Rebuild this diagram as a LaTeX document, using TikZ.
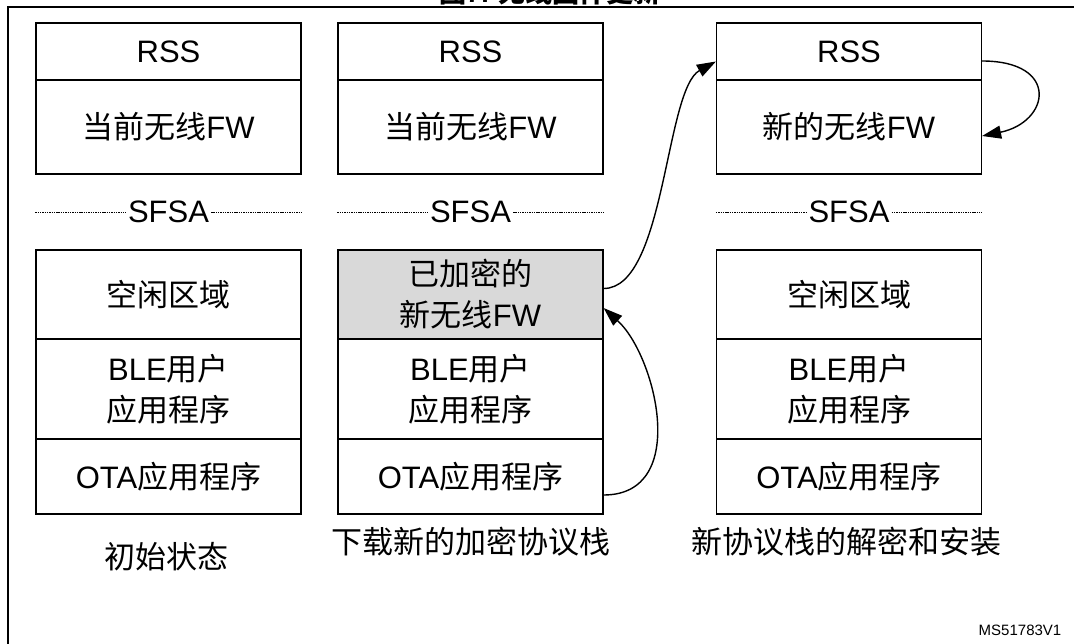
\documentclass[tikz,border=0pt]{standalone}
\usepackage{fontspec}
\setmainfont{Liberation Sans}
\newfontfamily\cjk{Noto Sans CJK SC}
\usetikzlibrary{arrows.meta}
\begin{document}
\begin{tikzpicture}[x=1pt,y=-1pt,
  cell/.style={draw,line width=1.2pt,minimum width=265pt,inner sep=0pt,align=center,
    font=\fontsize{31}{41}\selectfont},
  rssrow/.style={cell,minimum height=57pt},
  fwrow/.style={cell,minimum height=94pt},
  rowa/.style={cell,minimum height=89pt},
  rowb/.style={cell,minimum height=100pt},
  rowc/.style={cell,minimum height=75pt},
  sfsa/.style={inner xsep=2pt,inner ysep=0pt,font=\fontsize{31}{40}\selectfont},
  sepline/.style={line width=1pt,dash pattern=on 1.4pt off 0.9pt},
  caption/.style={font=\fontsize{31}{40}\selectfont\cjk},
  arr/.style={line width=1.4pt,-{Triangle[length=19pt,width=13pt]}},
  frame/.style={line width=1.8pt}
]
\useasboundingbox (0,0) rectangle (1074,643);
\fill[white] (0,0) rectangle (1074,643);

% title (cut off at the top)
\node[anchor=base,inner sep=0pt,font=\fontsize{27}{30}\selectfont\bfseries] (title) at (550,2) {{\cjk 图}7. {\cjk 无线固件更新}};

% frame
\coordinate (fbl) at (8,650);
\coordinate (ftl) at (8,7);
\coordinate (ftr) at (1080,7);
\draw[frame] (fbl) -- (ftl) -- (ftr);

% column 1
\node[rssrow] (rss1) at (168.5,51.5) {RSS};
\node[fwrow]  (fw1)  at (168.5,127) {{\cjk 当前无线}FW};
\node[sfsa]   (sf1)  at (168.5,212) {SFSA};
\node[rowa]   (a1)   at (168.5,294.5) {\cjk 空闲区域};
\node[rowb]   (b1)   at (168.5,389) {BLE{\cjk 用户}\\{\cjk 应用程序}};
\node[rowc]   (c1)   at (168.5,476.5) {OTA{\cjk 应用程序}};
\node[caption] (cap1) at (166,557) {初始状态};

% column 2
\node[rssrow] (rss2) at (470.5,51.5) {RSS};
\node[fwrow]  (fw2)  at (470.5,127) {{\cjk 当前无线}FW};
\node[sfsa]   (sf2)  at (470.5,212) {SFSA};
\node[rowa,fill=black!15] (a2) at (470.5,294.5) {{\cjk 已加密的}\\{\cjk 新无线}FW};
\node[rowb]   (b2)   at (470.5,389) {BLE{\cjk 用户}\\{\cjk 应用程序}};
\node[rowc]   (c2)   at (470.5,476.5) {OTA{\cjk 应用程序}};
\node[caption] (cap2) at (470.5,542) {下载新的加密协议栈};

% column 3
\node[rssrow] (rss3) at (849,51.5) {RSS};
\node[fwrow]  (fw3)  at (849,127) {{\cjk 新的无线}FW};
\node[sfsa]   (sf3)  at (849,212) {SFSA};
\node[rowa]   (a3)   at (849,294.5) {\cjk 空闲区域};
\node[rowb]   (b3)   at (849,389) {BLE{\cjk 用户}\\{\cjk 应用程序}};
\node[rowc]   (c3)   at (849,476.5) {OTA{\cjk 应用程序}};
\node[caption] (cap3) at (846,542) {新协议栈的解密和安装};

% SFSA dotted separators
\foreach \i in {1,2,3}{
  \draw[sepline] (rss\i.west |- sf\i) -- (sf\i.west);
  \draw[sepline] (sf\i.east) -- (rss\i.east |- sf\i);
}

% arrows
\draw[arr] ([yshift=6pt]a2.east) .. controls +(62,0) and +(-51,28) .. ([yshift=-10pt]rss3.west);
\draw[arr] ([yshift=-18.5pt]c2.east) .. controls +(87,0) and +(52,47) .. ([yshift=-13.5pt]a2.east);
\draw[arr] ([yshift=-9.5pt]rss3.east) .. controls +(78,0) and +(68,-14) .. ([yshift=-9pt]fw3.east);

% reference id
\node[font=\fontsize{15}{18}\selectfont] (ref) at (1020,630) {MS51783V1};
\end{tikzpicture}
\end{document}
